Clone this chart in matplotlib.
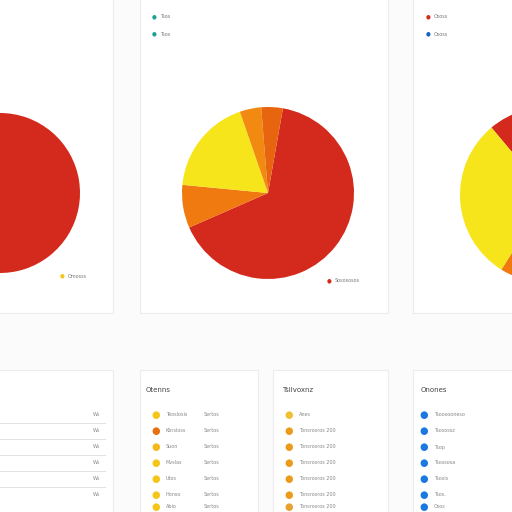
import matplotlib.pyplot as plt
from matplotlib.patches import Rectangle

W = 512.0

# pie data (shares in percent)
mid_vals = [65, 8, 18, 4, 4]
mid_cols = ['#d42a1e', '#f07a10', '#f7e51c', '#f28a12', '#e8650f']
left_vals = [90, 10]
left_cols = ['#d42a1e', '#d42a1e']
right_vals = [55, 15, 30]
right_cols = ['#d42a1e', '#f07a10', '#f7e51c']

list_titles = ['Otenns', 'Tsilvoxnz', 'Onones']
list_left = ['Teoslosis', 'Kbrsloss', 'Suon', 'Mvslas', 'Utos', 'Honso', 'Abio']
list_mid = ['Anes', 'Tonsrosros 200', 'Tonsrosros 200', 'Tonsrosros 200',
            'Tonsrosros 200', 'Tonsrosros 200', 'Tonsrosros 200']
list_right = ['Tsoosooneso', 'Tsosossz', 'Tsop', 'Tsossosa', 'Tsosis', 'Tsos.', 'Osos']
left_dots = ['#f5c518', '#e8700e', '#f5b818', '#f5c518', '#f5c518', '#f5c518', '#f5c518']
mid_dots = ['#f0c030', '#ec9a1a', '#ec9a1a', '#ec9a1a', '#ec9a1a', '#ec9a1a', '#e8a030']
right_dots = ['#1a78e0'] * 7
row_vals = ['Ws', 'Ws', 'Ws', 'Ws', 'Ws', 'Ws']


def px(x, y):
    return x / W, 1 - y / W


fig = plt.figure(figsize=(5.12, 5.12), dpi=100)
fig.patch.set_facecolor('#fbfbfb')


def card(x0, y0, x1, y1):
    fig.patches.append(Rectangle(px(x0, y1), (x1 - x0) / W, (y1 - y0) / W,
                                 transform=fig.transFigure, fc='white',
                                 ec='#ececec', lw=0.8, zorder=-5))


card(-5, -5, 113, 313)
card(140, -5, 388, 313)
card(413, -5, 520, 313)
card(-5, 370, 113, 520)
card(140, 370, 258, 520)
card(273, 370, 388, 520)
card(413, 370, 520, 520)


def pie(cx, cy, r, vals, cols, start):
    ax = fig.add_axes([(cx - r) / W, 1 - (cy + r) / W, 2 * r / W, 2 * r / W])
    ax.set_zorder(2)
    ax.pie(vals, colors=cols, startangle=start, counterclock=False,
           wedgeprops=dict(lw=0))
    ax.set_xlim(-1, 1)
    ax.set_ylim(-1, 1)
    ax.axis('off')
    return ax


pie(268, 193, 86, mid_vals, mid_cols, 80)
pie(0, 193, 80, left_vals, left_cols, 90)
pie(548, 195, 88, right_vals, right_cols, 130)

# legend snippets
def leg(x, y, col, txt):
    fig.text(*px(x, y), '●', color=col, fontsize=4, ha='center', va='center')
    fig.text(*px(x + 6, y), txt, color='#777777', fontsize=3.5, va='center')


leg(154, 17, '#20a090', 'Tsos')
leg(154, 34, '#20a090', 'Tsos')
leg(428, 17, '#d42a1e', 'Ososs')
leg(428, 34, '#1a60c0', 'Ososs')
leg(62, 276, '#f5c518', 'Omosss')
leg(329, 281, '#d42a1e', 'Sosososos')

# bottom lists
for x, t in zip([146, 282, 421], list_titles):
    fig.text(*px(x, 390), t, fontsize=5, color='#444444', va='center')
ys = [415, 431, 447, 463, 479, 495, 507]
for i, y in enumerate(ys):
    fig.text(*px(156, y), '●', color=left_dots[i], fontsize=7, ha='center', va='center')
    fig.text(*px(166, y), list_left[i], fontsize=3.5, color='#888888', va='center')
    fig.text(*px(204, y), 'Sertos', fontsize=3.5, color='#888888', va='center')
    fig.text(*px(289, y), '●', color=mid_dots[i], fontsize=7, ha='center', va='center')
    fig.text(*px(299, y), list_mid[i], fontsize=3.5, color='#888888', va='center')
    fig.text(*px(424, y), '●', color=right_dots[i], fontsize=7, ha='center', va='center')
    fig.text(*px(434, y), list_right[i], fontsize=3.5, color='#888888', va='center')
for i, y in enumerate(ys[:6]):
    fig.text(*px(100, y), row_vals[i], fontsize=3.5, color='#888888', va='center', ha='right')
    if i > 0:
        fig.add_artist(plt.Line2D([0, 105 / W], [1 - (y - 8) / W] * 2,
                                  color='#dddddd', lw=0.6))

fig.savefig('out.png', dpi=100, facecolor=fig.get_facecolor())
